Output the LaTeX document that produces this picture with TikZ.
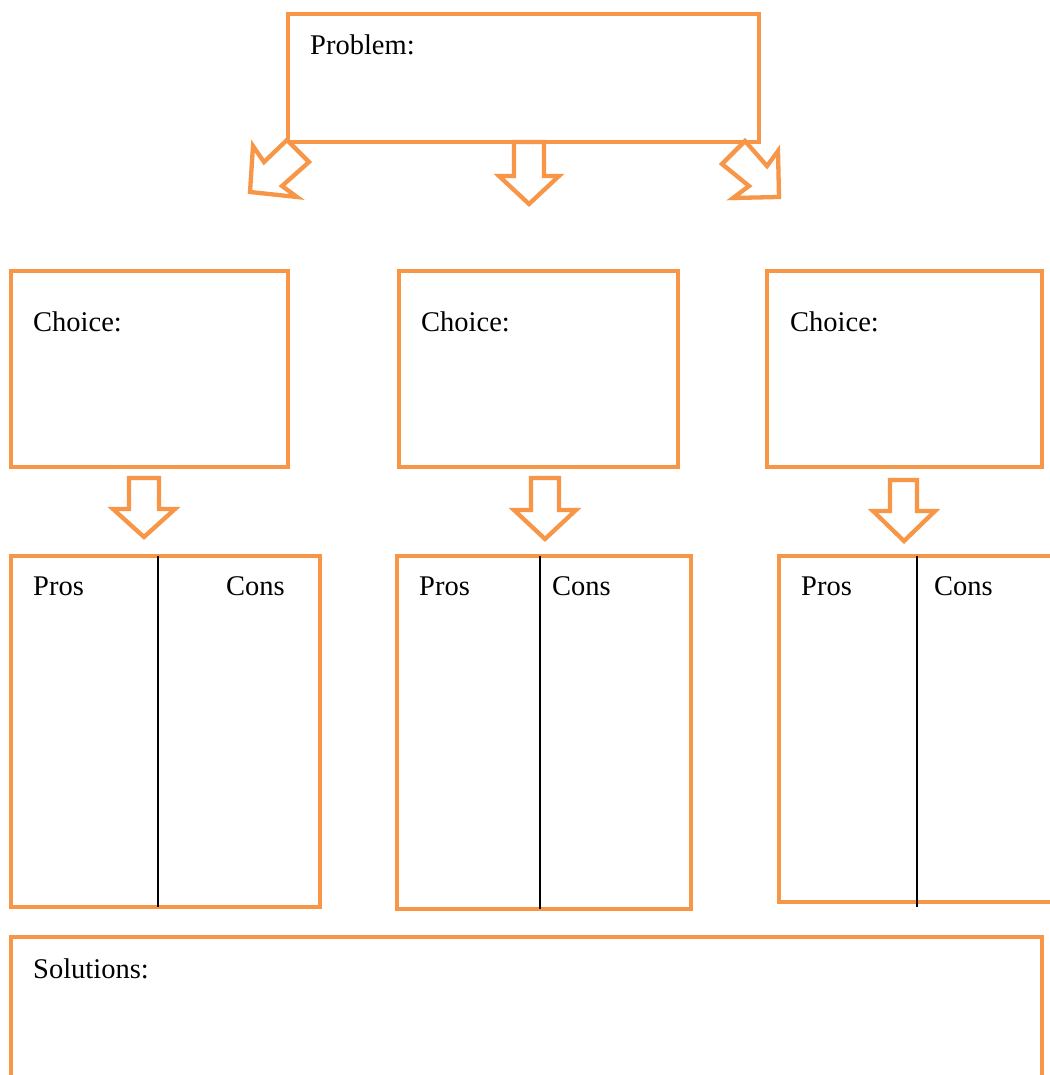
\documentclass[tikz,border=0pt]{standalone}
\usepackage{fontspec}
\setmainfont{Liberation Serif}
\definecolor{orng}{HTML}{F79646}
\begin{document}
\begin{tikzpicture}[x=1pt,y=-1pt,
  box/.style={draw=orng, line width=4.8pt, rectangle, inner sep=0pt, outer sep=0pt, anchor=north west},
  blockarrow/.style={draw=orng, line width=4.3pt, line join=miter, fill=white},
  lbl/.style={anchor=base west, inner sep=0pt, font=\fontsize{28.5}{30}\selectfont},
  divider/.style={draw=black, line width=1.6pt}]
\useasboundingbox (0,0) rectangle (1049,1075);
\fill[white] (0,0) rectangle (1049,1075);

% Problem
\node[box, minimum width=471pt, minimum height=128pt] (problem) at (288,14) {};
\node[lbl] (tproblem) at (310,55) {Problem:};

% Top block arrows
\draw[blockarrow] (287,140) -- (309,162) -- (282,186) -- (297,197) -- (250,192) -- (253,146) -- (264,162) -- cycle;
\draw[blockarrow] (514,142) -- (544,142) -- (544,176) -- (559,176) -- (529,204) -- (499,176) -- (514,176) -- cycle;
\draw[blockarrow] (745,141) -- (767,166) -- (778,151) -- (779,197) -- (733,198) -- (749,186) -- (722,164) -- cycle;

% Choice boxes
\node[box, minimum width=277pt, minimum height=196pt] (choice1) at (11,271) {};
\node[box, minimum width=279pt, minimum height=196pt] (choice2) at (399,271) {};
\node[box, minimum width=275pt, minimum height=196pt] (choice3) at (767,271) {};
\node[lbl] (tchoice1) at (33,331) {Choice:};
\node[lbl] (tchoice2) at (421,331) {Choice:};
\node[lbl] (tchoice3) at (790,331) {Choice:};

% Lower block arrows
\draw[blockarrow] (129,478) -- (159,478) -- (159,509) -- (175,509) -- (144,537) -- (113,509) -- (129,509) -- cycle;
\draw[blockarrow] (531,478) -- (559,478) -- (559,510) -- (576,510) -- (545,539) -- (514,510) -- (531,510) -- cycle;
\draw[blockarrow] (890,480) -- (917,480) -- (917,511) -- (935,511) -- (904,541) -- (873,511) -- (890,511) -- cycle;

% Pros / Cons boxes
\node[box, minimum width=309pt, minimum height=351pt] (pc1) at (11,556) {};
\node[box, minimum width=294pt, minimum height=353pt] (pc2) at (397,556) {};
\node[box, minimum width=280pt, minimum height=346pt] (pc3) at (779,556) {};
\coordinate (d1t) at (158,556); \coordinate (d1b) at (158,907);
\coordinate (d2t) at (540,556); \coordinate (d2b) at (540,909);
\coordinate (d3t) at (917,556); \coordinate (d3b) at (917,907);
\draw[divider] (d1t) -- (d1b);
\draw[divider] (d2t) -- (d2b);
\draw[divider] (d3t) -- (d3b);
\node[lbl] (pros1) at (33,595) {Pros};
\node[lbl] (cons1) at (226,595) {Cons};
\node[lbl] (pros2) at (419,595) {Pros};
\node[lbl] (cons2) at (552,595) {Cons};
\node[lbl] (pros3) at (801,595) {Pros};
\node[lbl] (cons3) at (934,595) {Cons};

% Solutions
\node[box, minimum width=1031pt, minimum height=140pt] (solutions) at (11,937) {};
\node[lbl] (tsolutions) at (33,978) {Solutions:};
\end{tikzpicture}
\end{document}
